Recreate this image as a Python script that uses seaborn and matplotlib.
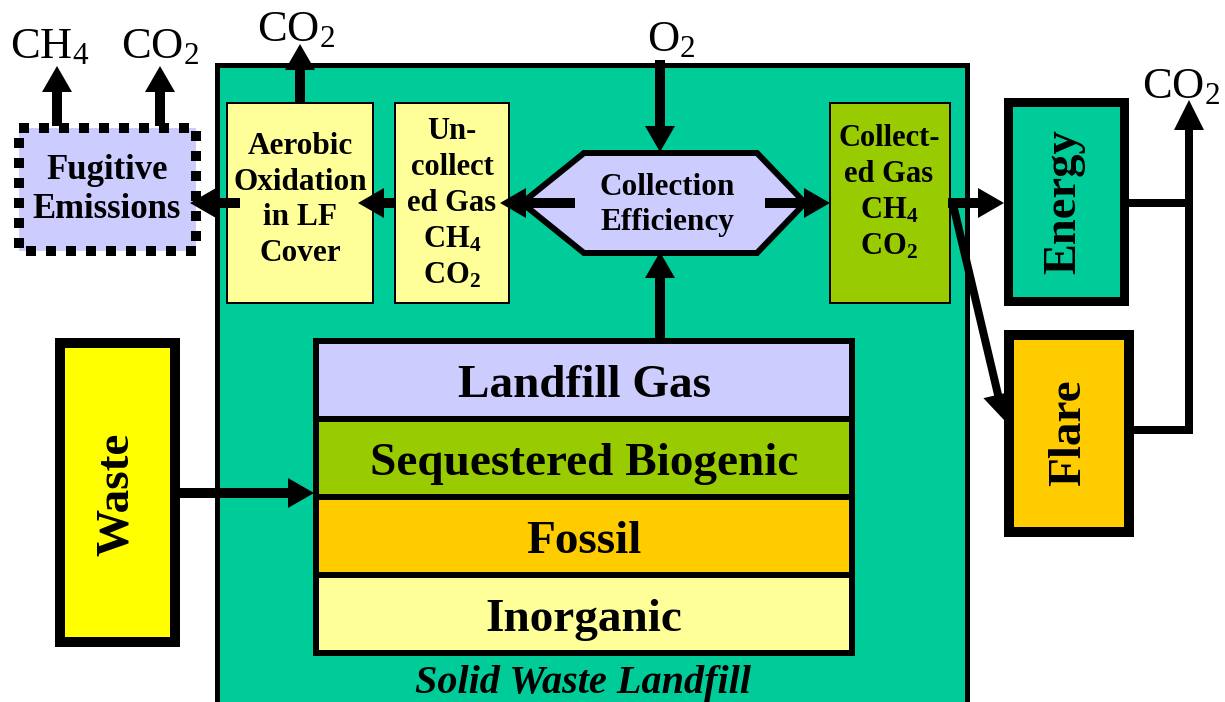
import matplotlib
matplotlib.use("Agg")
import matplotlib.pyplot as plt
import seaborn as sns
from matplotlib.patches import Rectangle, Polygon

sns.set_theme(style="white")
plt.rcParams['font.family'] = ['Liberation Serif', 'DejaVu Serif']
plt.rcParams['text.color'] = 'black'
plt.rcParams['mathtext.fontset'] = 'custom'
plt.rcParams['mathtext.rm'] = 'Liberation Serif'
plt.rcParams['mathtext.bf'] = 'Liberation Serif:bold'
plt.rcParams['mathtext.default'] = 'regular'

# ---- text content ----
stack_labels = ["Landfill Gas", "Sequestered Biogenic", "Fossil", "Inorganic"]
stack_colors = ["#CCCCFF", "#99CC00", "#FFCC00", "#FFFF99"]
gas_labels = ["CH$_4$", "CO$_2$", "CO$_2$", "O$_2$", "CO$_2$"]
box_labels = {
    "fugitive": "Fugitive\nEmissions",
    "aerobic": "Aerobic\nOxidation\nin LF\nCover",
    "uncollected": "Un-\ncollect\ned Gas\nCH$_4$\nCO$_2$",
    "efficiency": "Collection\nEfficiency",
    "collected": "Collect-\ned Gas\nCH$_4$\nCO$_2$",
    "energy": "Energy",
    "flare": "Flare",
    "waste": "Waste",
    "landfill": "Solid Waste Landfill",
}

GREEN = "#00CC99"
LAV = "#CCCCFF"
LYEL = "#FFFF99"
YGRN = "#99CC00"
ORNG = "#FFCC00"
YEL = "#FFFF00"

W, H = 1225, 702
fig = plt.figure(figsize=(W / 100, H / 100), dpi=100)
ax = fig.add_axes([0, 0, 1, 1])
ax.set_xlim(0, W)
ax.set_ylim(H, 0)
ax.axis("off")

PX = 0.72  # points per pixel


def rect(x0, y0, x1, y1, fc, lw_px=2, ls="-", z=2):
    r = Rectangle((x0, y0), x1 - x0, y1 - y0, facecolor=fc, edgecolor="black",
                  linewidth=lw_px * PX, linestyle=ls, zorder=z, joinstyle="miter")
    ax.add_patch(r)
    return r


def arrow(x0, y0, x1, y1, w=10, hw=30, hl=26, z=6):
    ax.arrow(x0, y0, x1 - x0, y1 - y0, width=w, head_width=hw, head_length=hl,
             length_includes_head=True, color="black", zorder=z, linewidth=0)


def line(xs, ys, w=8, z=5):
    ax.plot(xs, ys, color="black", linewidth=w * PX, solid_capstyle="projecting", zorder=z)


# Main landfill box
rect(217, 65, 967, 720, GREEN, lw_px=5, z=1)

# Fugitive emissions (dotted)
rect(19, 128, 196, 251, LAV, lw_px=10, ls=(0, (1, 1)), z=2)

# Aerobic / uncollected / collected boxes
rect(227, 103, 373, 303, LYEL, lw_px=2)
rect(395, 103, 509, 303, LYEL, lw_px=2)
rect(830, 103, 950, 303, YGRN, lw_px=2)

# Hexagon
hexa = Polygon([(522, 203), (584, 153), (757, 153), (805, 203), (757, 253), (584, 253)],
               closed=True, facecolor=LAV, edgecolor="black", linewidth=6 * PX, zorder=3,
               joinstyle="miter")
ax.add_patch(hexa)

# Energy / Flare / Waste
rect(1008, 102, 1124, 301, GREEN, lw_px=9, z=2)
rect(1009, 335, 1129, 532, ORNG, lw_px=10, z=2)
rect(60, 343, 175, 642, YEL, lw_px=10, z=2)

# Stack
layer_h = 78
top = 341
for i, (lab, col) in enumerate(zip(stack_labels, stack_colors)):
    y0 = top + i * layer_h
    rect(316, y0, 852, y0 + layer_h, col, lw_px=6, z=3)
    ax.text(584, y0 + layer_h / 2 + 6, lab, ha="center", va="center",
            fontsize=34, fontweight="bold", zorder=7)

# Arrows
arrow(57, 126, 57, 66)
arrow(160, 126, 160, 66)
arrow(300, 103, 300, 44)
arrow(240, 203, 190, 203)
arrow(396, 203, 358, 203)
arrow(575, 203, 500, 203)
arrow(660, 60, 660, 152)
arrow(660, 342, 660, 252)
arrow(765, 203, 830, 203)
arrow(948, 203, 1004, 203)
arrow(952, 200, 1004, 420, w=8)
arrow(178, 493, 314, 493)

# Right side outflows
line([1124, 1189], [203, 203])
line([1129, 1189], [430, 430])
line([1189, 1189], [430, 140])
arrow(1189, 150, 1189, 100, w=8, hw=30, hl=30)

# Text labels
tkw = dict(ha="center", va="center", fontweight="bold", zorder=8)
ax.text(107, 190, box_labels["fugitive"], fontsize=25, linespacing=1.26, **tkw)
ax.text(300, 200, box_labels["aerobic"], fontsize=22.5, linespacing=1.3, **tkw)
ax.text(452, 204, box_labels["uncollected"], fontsize=22, linespacing=1.31, **tkw)
ax.text(667, 205, box_labels["efficiency"], fontsize=22.5, linespacing=1.27, **tkw)
ax.text(889, 193, box_labels["collected"], fontsize=22, linespacing=1.31, **tkw)
ax.text(1064, 202, box_labels["energy"], fontsize=33.5, rotation=90, **tkw)
ax.text(1069, 433, box_labels["flare"], fontsize=34, rotation=90, **tkw)
ax.text(117, 494, box_labels["waste"], fontsize=34, rotation=90, **tkw)
ax.text(583, 684, box_labels["landfill"], fontsize=29, ha="center", va="center",
        fontweight="bold", fontstyle="italic", zorder=8)

gkw = dict(ha="center", va="center", fontsize=32, zorder=8)
ax.text(50, 47, gas_labels[0], **gkw)
ax.text(160, 47, gas_labels[1], **gkw)
ax.text(296, 30, gas_labels[2], **gkw)
ax.text(671, 40, gas_labels[3], **gkw)
ax.text(1181, 87, gas_labels[4], **gkw)

fig.savefig("out.png", dpi=100)
